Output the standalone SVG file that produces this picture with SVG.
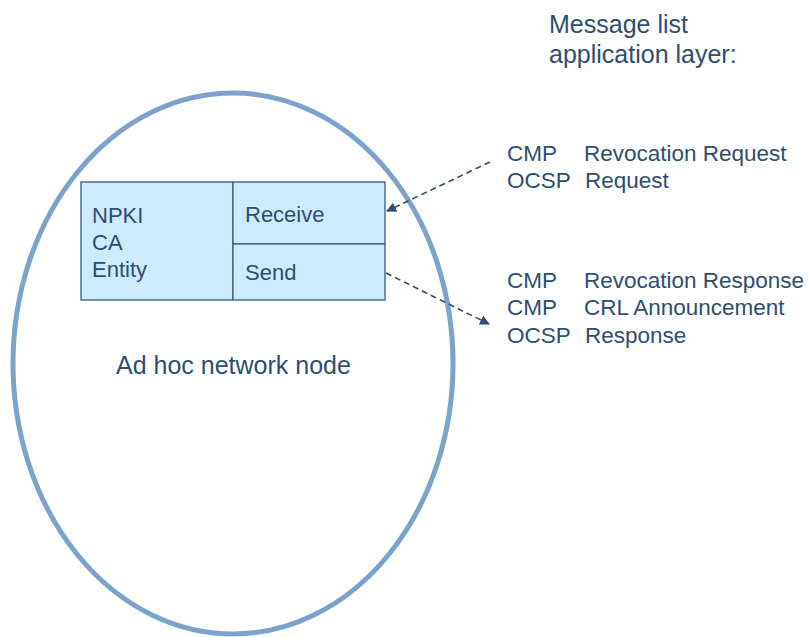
<svg xmlns="http://www.w3.org/2000/svg" width="809" height="637" viewBox="0 0 809 637">
<style>
text{font-family:"Liberation Sans",Arial,sans-serif;fill:#2E4E73}
.b{font-size:22px}
.l{font-size:22.5px}
.t{font-size:25px}
.box{fill:#CCEBFF;stroke:#3B5B82;stroke-width:1.3}
.c{fill:none;stroke:#2E4E73;stroke-width:1.6;stroke-dasharray:6 4}
</style>
<defs>
<marker id="ah" viewBox="0 0 10 10" refX="9" refY="5" markerWidth="10" markerHeight="10" markerUnits="userSpaceOnUse" orient="auto">
<path d="M0,0 L10,5 L0,10 z" fill="#2E4E73"/>
</marker>
</defs>
<rect width="809" height="637" fill="#fff"/>
<g id="adhoc-node">
<ellipse cx="233" cy="363.5" rx="220" ry="270.5" fill="none" stroke="#7BA3CB" stroke-width="5"/>
<text class="t" x="116" y="374">Ad hoc network node</text>
</g>
<g id="npki-ca-entity">
<rect class="box" x="81" y="182" width="152" height="118"/>
<text class="b" x="92" y="223">NPKI</text>
<text class="b" x="92" y="250">CA</text>
<text class="b" x="92" y="277">Entity</text>
</g>
<g id="receive">
<rect class="box" x="233" y="182" width="152" height="62"/>
<text class="b" x="245" y="222">Receive</text>
</g>
<g id="send">
<rect class="box" x="233" y="244" width="152" height="56"/>
<text class="b" x="245" y="280">Send</text>
</g>
<g id="title">
<text class="t" x="549" y="33">Message list</text>
<text class="t" x="549" y="63">application layer:</text>
</g>
<g id="requests">
<text class="l" x="507" y="161">CMP</text>
<text class="l" x="584" y="161">Revocation Request</text>
<text class="l" x="507" y="188">OCSP</text>
<text class="l" x="585" y="188">Request</text>
</g>
<g id="responses">
<text class="l" x="507" y="288">CMP</text>
<text class="l" x="584" y="288">Revocation Response</text>
<text class="l" x="507" y="315">CMP</text>
<text class="l" x="584" y="315">CRL Announcement</text>
<text class="l" x="507" y="343">OCSP</text>
<text class="l" x="585" y="343">Response</text>
</g>
<g id="connectors">
<line class="c" x1="490" y1="162" x2="387" y2="211" marker-end="url(#ah)"/>
<line class="c" x1="386" y1="273" x2="489" y2="324" marker-end="url(#ah)"/>
</g>
</svg>
